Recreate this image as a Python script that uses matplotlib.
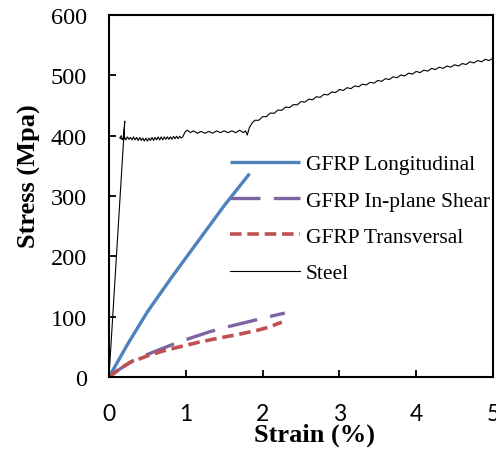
import matplotlib
matplotlib.use("Agg")
import matplotlib.pyplot as plt

# GFRP curves (strain %, stress MPa)
long_strain = [0, 0.25, 0.5, 0.82, 1.2, 1.5, 1.83]
long_stress = [0, 56, 108, 166, 232, 284, 337]

shear_strain = [0, 0.15, 0.31, 0.55, 0.79, 1.05, 1.31, 1.57, 1.83, 2.05, 2.29]
shear_stress = [0, 14, 27, 40, 52, 64, 75, 84, 92, 99, 106]

trans_strain = [0, 0.1, 0.27, 0.5, 0.7, 0.95, 1.18, 1.45, 1.7, 1.95, 2.09, 2.25]
trans_stress = [0, 10, 24, 35, 43, 51, 58, 65, 71, 78, 83, 91]

# steel: elastic + yield spike
steel_strain = [0, 0.205, 0.19]
steel_stress = [0, 424, 393]
# noisy yield plateau
steel_strain += [0.14, 0.16, 0.18, 0.20, 0.22, 0.24, 0.26, 0.28, 0.30, 0.32, 0.34, 0.36, 0.38, 0.40,
                 0.42, 0.44, 0.46, 0.48, 0.50, 0.52, 0.54, 0.56, 0.58, 0.60, 0.62, 0.64, 0.66, 0.68,
                 0.70, 0.72, 0.74, 0.76, 0.78, 0.80, 0.82, 0.84, 0.86, 0.88, 0.90, 0.92, 0.94]
steel_stress += [396, 400, 393, 398, 393, 398, 394, 397, 393, 398, 393, 397, 392, 397,
                 392, 396, 391, 396, 391, 396, 392, 397, 392, 397, 393, 398, 393, 398,
                 393, 398, 394, 398, 394, 398, 394, 399, 395, 399, 395, 399, 396]
# wavy section
steel_strain += [0.96, 0.99, 1.02, 1.06, 1.10, 1.15, 1.20, 1.25, 1.30, 1.35, 1.40, 1.45, 1.50,
                 1.55, 1.60, 1.65, 1.70, 1.75, 1.78, 1.80, 1.83]
steel_stress += [398, 406, 409, 405, 408, 404, 407, 404, 407, 404, 408, 405, 408,
                 405, 408, 405, 409, 405, 408, 401, 414]
# strain hardening with serrations
steel_strain += [1.87, 1.90, 1.95, 2.00, 2.05, 2.10, 2.15, 2.20, 2.25, 2.30, 2.35, 2.40, 2.45,
                 2.50, 2.55, 2.60, 2.65, 2.70, 2.75, 2.80, 2.85, 2.90, 2.95, 3.00, 3.05, 3.10,
                 3.15, 3.20, 3.25, 3.30, 3.35, 3.40, 3.45, 3.50, 3.55, 3.60, 3.65, 3.70, 3.75,
                 3.80, 3.85, 3.90, 3.95, 4.00, 4.05, 4.10, 4.15, 4.20, 4.25, 4.30, 4.35, 4.40,
                 4.45, 4.50, 4.55, 4.60, 4.65, 4.70, 4.75, 4.80, 4.85, 4.90, 4.95, 5.00]
steel_stress += [422, 425.5, 425.5, 431.5, 431.5, 437.5, 437, 442.5, 442, 447.5, 446.5, 451.5, 451,
                 456.5, 455.5, 460.5, 459.5, 464.5, 463.5, 468.5, 467.5, 472.5, 471.5, 476.5, 475, 479.5,
                 478, 482.5, 481, 485.5, 484, 488.5, 487, 491.5, 490, 494.5, 493, 497.5, 496,
                 500.5, 499, 503.5, 502, 506.5, 504.5, 508.5, 507, 511.5, 509.5, 513.5, 511.5, 515.5,
                 513.5, 517.5, 515.5, 519.5, 518, 522.5, 520.5, 524.5, 522.5, 526.5, 524.5, 528.5]

labels = ["GFRP Longitudinal", "GFRP In-plane Shear", "GFRP Transversal", "Steel"]

fig = plt.figure(figsize=(4.96, 4.56), dpi=100)
ax = fig.add_axes([109/496, 1 - 378/456, 384/496, 362/456])

serif = "Liberation Serif"

ax.plot(long_strain, long_stress, color="#4F81BD", lw=2.4, label=labels[0], solid_capstyle="butt")
ax.plot(shear_strain, shear_stress, color="#8064A2", lw=2.4, dashes=(9, 4), label=labels[1])
ax.plot(trans_strain, trans_stress, color="#C0504D", lw=2.6, dashes=(3.2, 1.6), label=labels[2])
ax.plot(steel_strain, steel_stress, color="black", lw=0.8, label=labels[3])

ax.set_xlim(0, 5)
ax.set_ylim(0, 600)
ax.set_xticks([0, 1, 2, 3, 4, 5])
ax.set_yticks([0, 100, 200, 300, 400, 500, 600])

ax.tick_params(direction="in", length=5, width=1.3)
ax.tick_params(axis="x", pad=19)
ax.tick_params(axis="y", pad=16)
for lab in ax.get_yticklabels():
    lab.set_fontfamily(serif)
    lab.set_fontsize(17.5)
for lab in ax.get_xticklabels():
    lab.set_fontfamily("Lato")
    lab.set_fontsize(16.5)
for s in ax.spines.values():
    s.set_linewidth(1.5)

ax.set_xlabel("Strain (%)", fontfamily=serif, fontweight="bold", fontsize=19)
ax.set_ylabel("Stress (Mpa)", fontfamily=serif, fontweight="bold", fontsize=19)
ax.xaxis.set_label_coords((315 - 109) / 384, (378 - 424) / 362)
ax.yaxis.set_label_coords((41 - 109) / 384, (378 - 176) / 362)

ax.legend(loc="upper left", bbox_to_anchor=((230 - 109) / 384, (378 - 155) / 362),
          frameon=False, prop={"family": serif, "size": 15.5},
          handlelength=3.25, handletextpad=0.28, labelspacing=0.76, borderaxespad=0, borderpad=0)

fig.savefig("out.png", dpi=100)
